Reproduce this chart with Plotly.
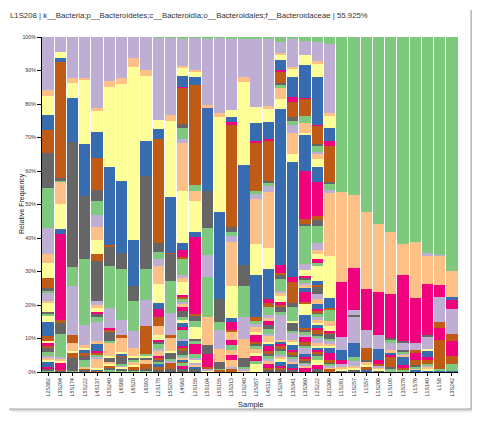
import plotly.graph_objects as go

samples = ["L2S382", "L3S294", "L5S174", "L5S222", "L4S137", "L5S240", "L6S68", "L6S20",
           "L6S93", "L2S175", "L5S203", "L4S63", "L2S155", "L5S104", "L5S155", "L3S313",
           "L2S240", "L2S357", "L4S112", "L2S204", "L3S341", "L3S360", "L2S222", "L2S309",
           "L1S281", "L1S257", "L1S57", "L1S208", "L1S105", "L3S378", "L1S76", "L1S140",
           "L1S8", "L3S242"]

# ColorBrewer Accent (cycled over taxa, top of the stack first)
accent = ["#7fc97f", "#beaed4", "#fdc086", "#ffff99", "#386cb0", "#f0027f", "#bf5b17", "#666666"]

# abundance (%) per taxon, taxon order = stack order from top down
ab_L2S382 = [0, 15.9, 1.8, 5.7, 4.5, 0, 7.0, 10.3,
             12.1, 7.7, 2.7, 4.6, 0, 0, 3.0, 0.8,
             0.5, 2.4, 0.8, 2.7, 0, 0, 0, 0.4,
             0.6, 0, 0, 1.8, 4.2, 0, 1.6, 0,
             0, 0, 0, 0.6, 0, 1.0, 0.6, 1.2,
             1.0, 0.6, 0.6, 0.8, 1.5, 0.4, 0, 0.5,
             0.5]
ab_L3S294 = [0, 4.6, 0, 1.8, 1.0, 0, 34.8, 0.5,
             0.5, 0, 6.5, 7.5, 1.7, 25.7, 0.5, 3.7,
             6.8, 0.4, 0.6, 0.8, 0, 2.0, 0.3, 0.3]
ab_L5S174 = [0, 12.3, 1.5, 4.3, 13.1, 0, 0, 37.5,
             5.5, 14.7, 0, 0, 0, 0, 2.3, 0,
             0, 0, 2.5, 0.4, 0, 0, 1.8, 3.8,
             0.3]
ab_L5S222 = [0, 12.1, 0.8, 19.0, 15.7, 0, 0, 18.7,
             19.6, 6.0, 1.0, 0.5, 1.0, 0, 0.7, 1.3,
             2.0, 0, 0.5, 0, 0, 0, 0.5, 0.6]
ab_L4S137 = [0, 21.1, 1.0, 6.2, 7.8, 0, 9.7, 3.3,
             4.0, 3.7, 3.7, 4.3, 0, 0, 2.2, 11.7,
             0, 1.3, 1.0, 1.0, 0, 0.7, 0, 1.0,
             1.3, 5.7, 1.0, 0, 2.0, 0.5, 0.5, 0,
             0.7, 0.8, 2.5, 0.5, 0.5, 0, 0.3, 0]
ab_L5S240 = [0, 13.0, 2.0, 23.9, 23.2, 0, 0.7, 5.6,
             12.4, 6.0, 0, 0, 0, 0.6, 0.4, 3.0,
             0.4, 0, 4.0, 0.5, 0, 0, 0, 1.3,
             0, 0, 0.5, 0.7, 0, 0, 0.5, 0.8,
             0.5]
ab_L6S68 = [0, 12.3, 1.8, 28.8, 21.7, 0, 0, 4.8,
            15.1, 4.5, 0, 0, 0, 0, 0.8, 0,
            0, 0, 4.2, 0.5, 0.5, 0, 0.3, 2.2,
            0.5, 0.5, 0, 0.5, 0, 0, 0, 0.5,
            0.5]
ab_L6S20 = [0, 6.2, 2.9, 51.5, 13.7, 0, 0, 4.4,
            9.1, 5.0, 2.4, 0.5, 0, 0, 0, 0.8,
            0.5, 0, 1.0, 0.5, 0, 0, 0.8, 0.4,
            0.3]
ab_L6S93 = [0, 9.9, 1.8, 19.4, 10.4, 0, 0, 27.9,
            9.2, 7.7, 0, 0, 0, 0, 8.3, 0,
            0.5, 0, 0, 0.7, 0, 0, 0, 0.6,
            0, 0, 1.2, 0, 0, 0, 1.5, 0.6,
            0.3]
ab_L2S175 = [0.3, 24.6, 0, 2.7, 2.8, 0, 31.3, 2.7,
             2.2, 2.0, 5.3, 5.8, 1.7, 2.5, 2.5, 0,
             0, 0, 2.8, 1.4, 0, 0.8, 0, 0.5,
             1.5, 0.5, 1.5, 0, 0, 0.7, 0.5, 0.8,
             0.5, 0, 0, 0, 0.8, 0, 1.0, 0.6]
ab_L5S203 = [0.3, 23.0, 1.8, 22.7, 16.8, 0, 0.3, 8.0,
             9.7, 6.6, 0, 0, 0, 0, 0.7, 0,
             0, 0, 4.0, 0.7, 0, 0, 0, 1.8,
             0.5, 0.5, 0, 0, 0, 0, 2.0, 0.8]
ab_L4S63 = [0.4, 8.2, 0.6, 2.4, 3.3, 0.3, 10.9, 1.0,
            3.4, 1.0, 14.5, 15.6, 2.0, 2.0, 0.5, 0,
            5.0, 0.8, 1.2, 4.0, 0, 0.5, 0.5, 0,
            1.0, 0.5, 1.0, 0, 0, 1.2, 0, 1.8,
            1.0, 0, 0, 0.5, 1.5, 1.0, 0, 0,
            2.5, 0.7, 0, 0, 1.5, 0.5, 1.0, 1.0,
            0.5, 0.5, 0.5, 0, 0.5, 0, 0.5, 0,
            0.8, 0, 0, 0, 0, 0.9, 0, 1.0]
ab_L2S155 = [0.2, 9.7, 0.5, 1.5, 2.3, 0, 29.9, 0,
             2.0, 0, 3.0, 9.2, 1.3, 23.1, 0.5, 1.5,
             2.0, 0, 0, 3.5, 0, 0, 0, 0.5,
             1.0, 0, 0, 0, 0, 3.0, 0, 0,
             1.0, 0.5, 0, 1.0, 0, 0, 0, 0,
             0, 0.6, 0.8, 0, 0.6, 0, 0, 0.8]
ab_L5S104 = [0.4, 19.9, 1.0, 0, 24.6, 0, 0, 11.2,
             8.0, 6.5, 0, 0, 0, 0, 0, 0,
             11.9, 0, 8.3, 0, 0, 0, 0, 2.7,
             0, 0, 0, 0, 0, 4.0, 0.5, 0,
             0, 0.5, 0, 0.5]
ab_L5S155 = [0.2, 22.6, 1.0, 28.4, 25.9, 0, 0, 7.0,
             2.3, 5.7, 3.8, 0, 0, 0, 0, 2.0,
             0.4, 0, 0, 0, 0, 0, 0.6, 0]
ab_L3S313 = [0.4, 21.4, 0, 2.0, 1.7, 0.5, 30.8, 1.3,
             1.3, 1.9, 12.9, 9.8, 1.2, 2.3, 0.7, 0,
             0, 0, 2.3, 0, 0, 1.5, 0, 0,
             1.3, 0, 1.7, 0, 0, 1.3, 0, 0,
             0, 0, 2.2, 0, 0, 0, 0, 0,
             0, 0.7, 0, 0, 0, 0, 0.8, 0]
ab_L2S240 = [0.4, 11.4, 1.5, 24.9, 29.9, 0, 0, 6.2,
             9.3, 6.5, 5.8, 0, 0, 0, 0, 2.7,
             0.5, 0.4, 0.5]
ab_L2S357 = [0.6, 20.2, 0, 5.0, 5.3, 0.4, 14.5, 0,
             1.0, 1.4, 13.5, 9.2, 12.7, 0, 1.0, 0,
             1.0, 0.8, 1.5, 1.0, 0, 2.0, 0.5, 0.5,
             1.2, 0, 1.0, 1.0, 0, 1.5, 0, 0,
             0.8, 0, 0, 2.5]
ab_L4S112 = [0.6, 20.0, 0.9, 4.0, 4.8, 0.6, 12.1, 0.7,
             0.7, 1.8, 16.9, 6.3, 8.7, 1.2, 1.3, 0,
             2.5, 0.8, 1.0, 0, 0, 1.2, 0, 1.0,
             1.5, 0.8, 1.5, 0.8, 0.5, 1.5, 0.8, 0.6,
             1.0, 0.6, 1.0, 0, 0, 1.2, 0.6, 0.5]
ab_L2S204 = [1.4, 3.5, 0.5, 1.5, 3.0, 0.5, 3.5, 0.5,
             1.2, 0, 3.3, 3.0, 47.3, 2.3, 0.7, 1.0,
             3.8, 0.7, 0.5, 2.0, 0, 1.0, 0.5, 1.5,
             1.0, 7.7, 0.5, 0, 0.5, 0.5, 1.0, 0.8,
             1.0, 0.5, 1.0, 0.5, 1.5, 0.5, 0.8, 0.5]
ab_L3S341 = [0.6, 8.3, 0.5, 2.5, 6.0, 1.5, 4.5, 1.3,
             1.0, 2.5, 6.2, 2.5, 34.3, 1.5, 6.3, 1.0,
             4.2, 0, 0, 0.5, 0, 0, 0, 2.5,
             0.8, 2.0, 0.5, 1.0, 1.5, 0.5, 0.8, 0.8,
             0.5, 0.8, 0.5, 0, 1.5, 0.5, 0, 0.6]
ab_L3S360 = [1.2, 4.4, 0, 2.8, 10.0, 0.3, 5.2, 0,
             2.3, 0, 3.0, 0.4, 11.2, 14.4, 1.5, 0.7,
             11.7, 1.8, 0, 1.7, 0, 0.7, 0, 0.5,
             1.0, 0.7, 0.5, 0, 1.5, 3.0, 0.5, 0,
             0, 0, 0, 3.5, 4.0, 0, 0.5, 0.5,
             1.0, 0.8, 0, 0, 0, 1.5, 0.5, 0.5,
             0.5, 2.0, 0, 0, 1.0, 0.5, 0.5, 0.5,
             0.5, 0.5, 0.5, 0, 0, 1.5]
ab_L2S222 = [1.6, 5.8, 0.5, 4.3, 14.3, 0.4, 5.4, 0.5,
             2.0, 0.7, 1.3, 2.5, 4.5, 10.2, 1.4, 1.6,
             5.4, 2.0, 1.3, 1.5, 0, 1.0, 0, 0,
             1.0, 0, 0, 4.5, 1.2, 0, 0.8, 2.0,
             0, 1.5, 1.5, 0, 1.5, 0.5, 0.5, 0.5,
             1.0, 1.0, 0.5, 1.0, 0.5, 1.0, 1.0, 0.8,
             0.5, 1.5, 1.0, 0.5, 0.5, 0.8, 0.5, 0.5,
             1.5, 0, 0, 1.5, 0, 1.0, 0, 1.0]
ab_L2S309 = [2.2, 20.8, 0.8, 3.5, 4.2, 1.3, 10.9, 0.7,
             1.8, 0.8, 18.9, 12.9, 2.9, 0, 0.5, 0,
             3.3, 0, 1.5, 1.5, 0, 0.5, 0.5, 1.5,
             0.5, 1.0, 0.5, 0.5, 1.7, 2.3, 0.5, 0.5,
             0.5, 0.5, 0.5, 0, 0, 0, 1.0, 0]
ab_L1S281 = [46.2, 0, 26.9, 0, 0, 16.4, 0, 0,
             0, 4.0, 0, 0, 3.0, 1.0, 0, 0,
             0, 1.0, 0.5, 0.5, 0, 0, 0, 0.5]
ab_L1S257 = [46.9, 0, 21.6, 0, 0, 12.6, 0, 0,
             0, 1.6, 0, 0, 0, 0, 0, 0.4,
             0, 7.8, 0, 0, 4.2, 0, 0, 0,
             1.0, 1.5, 0.5, 0.8, 0, 0, 0, 0.6]
ab_L1S57 = [52.3, 0, 22.9, 0, 0, 12.2, 0, 0,
            0, 5.5, 0, 0, 0, 0, 3.5, 0.5,
            0, 0, 1.0, 0.5, 0, 0, 1.0, 0,
            0, 0, 0, 0, 0.6]
ab_L1S208 = [55.925, 0, 20.2, 0, 0, 12.9, 0, 0,
             0, 4.0, 0, 0, 3.5, 1.0, 0.5, 0,
             0, 0.5, 0.5, 0.5, 0, 0, 0, 0.475]
ab_L1S105 = [58.1, 0, 18.7, 0, 0, 13.1, 0, 0.5,
             1.0, 2.0, 1.0, 0, 0.6, 0.5, 3.0, 0.5,
             1.0]
ab_L3S378 = [61.3, 0, 9.3, 0, 0, 19.6, 0, 0.4,
             0, 2.2, 0, 0, 0, 0, 0, 0.4,
             0.5, 0.5, 0.5, 0, 2.5, 0.8, 0.5, 0,
             0.8]
ab_L1S76 = [61.3, 0, 16.7, 0, 0, 13.4, 0, 0,
            0, 2.0, 0, 0, 0, 0, 1.0, 0,
            0, 0, 0, 0, 0, 2.0, 1.5, 0.5,
            0.5, 0, 0.5, 0, 0.6]
ab_L1S140 = [64.6, 0.5, 8.5, 0, 0, 15.4, 0, 0.5,
             0, 3.5, 0, 0.5, 2.0, 1.0, 1.0, 0,
             0.5, 0.5, 0.5, 0.5, 0.5]
ab_L1S8 = [65.1, 0.3, 8.7, 0, 0, 3.5, 0, 0,
           0, 7.7, 0, 0, 0, 0, 1.8, 0,
           0, 0, 0, 0, 0, 3.5, 8.5, 0,
           0.5, 0, 0, 0, 0.5]
ab_L3S242 = [69.9, 0, 8.0, 0, 0.5, 2.9, 0, 0,
             0, 7.6, 0, 0, 0, 0, 2.0, 0,
             0, 0, 0, 0, 0, 4.4, 2.6, 0,
             2.0, 0, 0, 0, 0.3]

abundances = [ab_L2S382, ab_L3S294, ab_L5S174, ab_L5S222, ab_L4S137, ab_L5S240, ab_L6S68,
              ab_L6S20, ab_L6S93, ab_L2S175, ab_L5S203, ab_L4S63, ab_L2S155, ab_L5S104,
              ab_L5S155, ab_L3S313, ab_L2S240, ab_L2S357, ab_L4S112, ab_L2S204, ab_L3S341,
              ab_L3S360, ab_L2S222, ab_L2S309, ab_L1S281, ab_L1S257, ab_L1S57, ab_L1S208,
              ab_L1S105, ab_L3S378, ab_L1S76, ab_L1S140, ab_L1S8, ab_L3S242]

title_text = ("L1S208 | k__Bacteria;p__Bacteroidetes;c__Bacteroidia;"
              "o__Bacteroidales;f__Bacteroidaceae | 55.925%")

n_taxa = max(len(a) for a in abundances)
totals = [sum(a) for a in abundances]

fig = go.Figure()
for i in reversed(range(n_taxa)):
    vals = [(a[i] if i < len(a) else 0) / t for a, t in zip(abundances, totals)]
    fig.add_trace(go.Bar(
        x=samples, y=vals, name=f"Taxon {i + 1}",
        marker=dict(color=accent[i % 8], line=dict(width=0)),
        showlegend=False,
        hovertemplate="%{x}<br>%{y:.3%}<extra>Taxon " + str(i + 1) + "</extra>",
    ))

FONT = "Liberation Sans, Arial, Helvetica, sans-serif"
# page body has an 8px margin; figure coordinates = page coordinates - 8
OFF = 8
W, H = 464, 407
L, T = 42 - OFF, 37 - OFF
R = W - (458 - OFF)
B = H - (372 - OFF)
pw, ph = W - L - R, H - T - B


def px(x):
    return (x - OFF - L) / pw


def py(y):
    return (H - B - (y - OFF)) / ph


shapes = []
# card shadow (right and bottom edges)
for off, op in [(0, 0.55), (1, 0.3), (2, 0.15), (3, 0.07)]:
    shapes.append(dict(type="line", xref="paper", yref="paper",
                       x0=px(471 + off), x1=px(471 + off), y0=py(10 + off), y1=py(409 + off),
                       line=dict(color=f"rgba(90,90,90,{op})", width=1)))
    shapes.append(dict(type="line", xref="paper", yref="paper",
                       x0=px(9 + off), x1=px(471 + off), y0=py(409 + off), y1=py(409 + off),
                       line=dict(color=f"rgba(90,90,90,{op})", width=1)))

annotations = [
    dict(text=title_text, xref="paper", yref="paper",
         x=px(8), y=py(16), xanchor="left", yanchor="middle",
         showarrow=False, font=dict(size=7.8, color="#333", family=FONT)),
    dict(text="Sample", xref="paper", yref="paper",
         x=px(250), y=py(404), xanchor="center", yanchor="middle",
         showarrow=False, font=dict(size=7.5, color="#222", family=FONT)),
    dict(text="Relative Frequency", xref="paper", yref="paper", textangle=-90,
         x=px(22), y=py(204), xanchor="center", yanchor="middle",
         showarrow=False, font=dict(size=7, color="#222", family=FONT)),
]

fig.update_layout(
    width=W, height=H,
    margin=dict(l=L, r=R, t=T, b=B, autoexpand=False),
    barmode="stack", bargap=0.08,
    plot_bgcolor="white", paper_bgcolor="white",
    font=dict(family=FONT, color="#222", size=6),
    shapes=shapes,
    annotations=annotations,
    xaxis=dict(
        automargin=False,
        tickangle=-90, tickfont=dict(size=5.3, color="#333"),
        showline=True, linecolor="#000", linewidth=1,
        ticks="outside", ticklen=3, tickcolor="#000",
        showgrid=False, range=[-0.5, len(samples) - 0.5],
    ),
    yaxis=dict(
        automargin=False,
        range=[0, 1], tickvals=[i / 10 for i in range(11)], tickformat=".0%",
        tickfont=dict(size=5.3, color="#333"),
        showline=True, linecolor="#000", linewidth=1,
        ticks="outside", ticklen=4, tickcolor="#000",
        showgrid=False, zeroline=False,
    ),
)

fig.write_html("out.html")
